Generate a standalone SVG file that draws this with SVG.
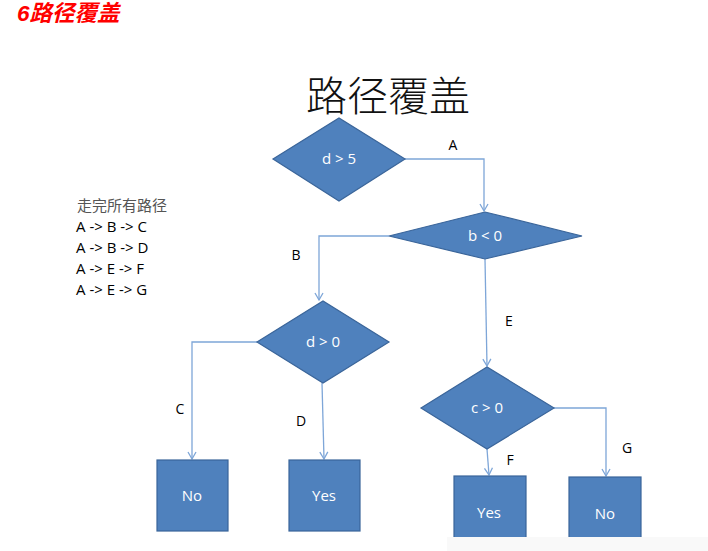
<svg xmlns="http://www.w3.org/2000/svg" width="708" height="551" viewBox="0 0 708 551">
<style>
.shape{fill:#4f81bd;stroke:#3a659a;stroke-width:1.2}
.in{fill:#ffffff;font-family:"Open Sans","Liberation Sans",sans-serif;font-size:15px;text-anchor:middle}
.lbl{fill:#000;font-family:"Open Sans","Liberation Sans",sans-serif;font-size:14px;text-anchor:middle}
.edge{fill:none;stroke:#7ea6d8;stroke-width:1.3}
.side{fill:#000;font-family:"Open Sans","Liberation Sans",sans-serif;font-size:15px}
</style>
<defs>
<marker id="arr" markerWidth="10" markerHeight="10" refX="8" refY="5" orient="auto" markerUnits="userSpaceOnUse">
<path d="M1,1 L8,5 L1,9" fill="none" stroke="#7ea6d8" stroke-width="1.3"/>
</marker>
</defs>
<rect width="708" height="551" fill="#ffffff"/>
<text x="17" y="21" fill="#ff0000" font-family="'Liberation Sans','Noto Sans CJK SC',sans-serif" font-size="22.5" font-weight="bold" font-style="italic">6路径覆盖</text>
<text x="388" y="111" fill="#111" font-family="'Noto Sans CJK SC',sans-serif" font-size="41" font-weight="300" text-anchor="middle">路径覆盖</text>
<g id="paths-text">
<text x="77" y="211" fill="#555" font-family="'Noto Sans CJK SC',sans-serif" font-size="15">走完所有路径</text>
<text class="side" x="76" y="232">A -&gt; B -&gt; C</text>
<text class="side" x="76" y="253">A -&gt; B -&gt; D</text>
<text class="side" x="76" y="274">A -&gt; E -&gt; F</text>
<text class="side" x="76" y="295">A -&gt; E -&gt; G</text>
</g>
<g id="connectors">
<path class="edge" d="M405,159 H484 V211" marker-end="url(#arr)"/>
<path class="edge" d="M389,236 H319 V300" marker-end="url(#arr)"/>
<path class="edge" d="M257,342 H192 V459" marker-end="url(#arr)"/>
<path class="edge" d="M322,383 L324,459" marker-end="url(#arr)"/>
<path class="edge" d="M485,259 L487,366" marker-end="url(#arr)"/>
<path class="edge" d="M487,449 L489,475" marker-end="url(#arr)"/>
<path class="edge" d="M554,408 H606 V476" marker-end="url(#arr)"/>
<text class="lbl" x="453" y="150">A</text>
<text class="lbl" x="296" y="260">B</text>
<text class="lbl" x="180" y="414">C</text>
<text class="lbl" x="301" y="426">D</text>
<text class="lbl" x="509" y="326">E</text>
<text class="lbl" x="510" y="465">F</text>
<text class="lbl" x="627" y="453">G</text>
</g>
<g id="n-d5">
<polygon class="shape" points="273,159 339,118 405,159 339,201"/>
<text class="in" x="339" y="164">d &gt; 5</text>
</g>
<g id="n-b0">
<polygon class="shape" points="389,236 485,212 582,236 485,259"/>
<text class="in" x="485" y="241">b &lt; 0</text>
</g>
<g id="n-d0">
<polygon class="shape" points="257,342 323,301 389,342 323,383"/>
<text class="in" x="323" y="347">d &gt; 0</text>
</g>
<g id="n-c0">
<polygon class="shape" points="421,408 487,367 554,408 487,449"/>
<text class="in" x="487" y="413">c &gt; 0</text>
</g>
<g id="n-no1">
<rect class="shape" x="157" y="460" width="71" height="71"/>
<text class="in" x="192" y="501">No</text>
</g>
<g id="n-yes1">
<rect class="shape" x="289" y="460" width="71" height="71"/>
<text class="in" x="324" y="501">Yes</text>
</g>
<g id="n-yes2">
<rect class="shape" x="454" y="476" width="72" height="71"/>
<text class="in" x="489" y="518">Yes</text>
</g>
<g id="n-no2">
<rect class="shape" x="569" y="477" width="72" height="71"/>
<text class="in" x="605" y="519">No</text>
</g>
<rect x="447" y="537" width="261" height="14" fill="#f9f9f9"/>
</svg>
